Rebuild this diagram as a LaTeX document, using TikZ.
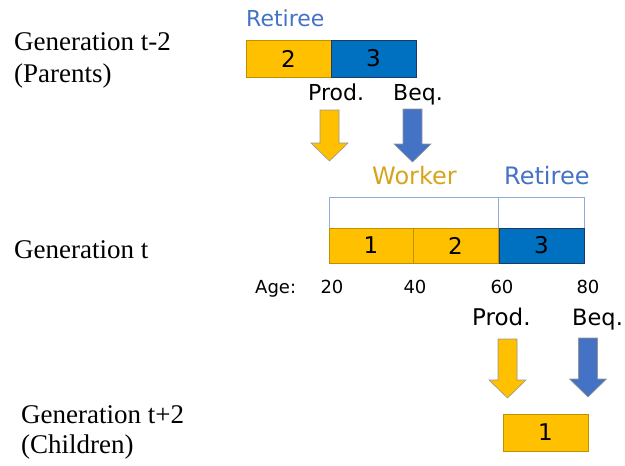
\documentclass[tikz,border=0pt]{standalone}
\usepackage{fontspec}
\setmainfont{Liberation Serif}
\newfontfamily\labelfont{DejaVu Sans}
\definecolor{ambar}{RGB}{255,192,0}
\definecolor{ambaredge}{RGB}{191,144,0}
\definecolor{deepblue}{RGB}{0,112,192}
\definecolor{deepedge}{RGB}{31,56,100}
\definecolor{softblue}{RGB}{68,114,196}
\definecolor{paleedge}{RGB}{143,170,220}
\definecolor{goldtext}{RGB}{214,164,28}
\definecolor{arrowedge}{RGB}{150,150,150}
\tikzset{
  x=1pt, y=-1pt,
  cell/.style={draw, line width=0.8pt, inner sep=0pt, minimum height=#1,
    font=\labelfont\fontsize{23}{26}\selectfont},
  workcell/.style={cell=#1, fill=ambar, draw=ambaredge},
  restcell/.style={cell=#1, fill=deepblue, draw=deepedge},
  framecell/.style={draw=paleedge, line width=0.8pt, inner sep=0pt, minimum height=31pt},
  gentext/.style={anchor=base west, inner sep=0pt, font=\fontsize{27}{30}\selectfont},
  tag/.style={anchor=base west, inner sep=0pt, font=\labelfont\fontsize{#1}{#1}\selectfont},
  tick/.style={anchor=base, inner sep=0pt, font=\labelfont\fontsize{18}{20}\selectfont},
  pics/downarrow/.style 2 args={code={
    \draw[fill=#1, draw=arrowedge, line width=0.6pt, line join=miter]
      (-9.5,0) -- (9.5,0) -- (9.5,#2-18) -- (18.5,#2-18) -- (0,#2)
      -- (-18.5,#2-18) -- (-9.5,#2-18) -- cycle;}}
}
\begin{document}
\begin{tikzpicture}
\useasboundingbox (0,0) rectangle (625,466);

% generation labels
\node[gentext] (gpar) at (14,50) {Generation t-2};
\node[gentext] (gpar2) at (14,82) {(Parents)};
\node[gentext] (gnow) at (14,258) {Generation t};
\node[gentext] (gchild) at (21,423) {Generation t+2};
\node[gentext] (gchild2) at (21,453) {(Children)};

% parents: remaining life periods
\node[tag=22, text=softblue] (pret) at (246,26) {Retiree};
\node[workcell=37pt, minimum width=85pt] (p2) at (288.5,58.5) {2};
\node[restcell=37pt, minimum width=85pt] (p3) at (373.5,58.5) {3};
\node[tag=22] (pprod) at (308,100) {Prod.};
\node[tag=22] (pbeq) at (393,100) {Beq.};
\pic at (329.5,110) {downarrow={ambar}{51}};
\pic at (412.5,109) {downarrow={softblue}{53}};

% generation t: life cycle
\node[tag=24, text=goldtext] (wlab) at (372,184) {Worker};
\node[tag=24, text=softblue] (rlab) at (504,184) {Retiree};
\node[framecell, minimum width=169pt] (wframe) at (413.5,212.5) {};
\node[framecell, minimum width=86pt] (rframe) at (541,212.5) {};
\node[workcell=35pt, minimum width=84pt] (c1) at (371,245.5) {1};
\node[workcell=35pt, minimum width=85pt] (c2) at (455.5,245.5) {2};
\node[restcell=35pt, minimum width=85pt] (c3) at (541.5,245.5) {3};

% age axis
\node[tag=18] (age) at (255,293) {Age:};
\node[tick] (a20) at (332,293) {20};
\node[tick] (a40) at (415,293) {40};
\node[tick] (a60) at (502,293) {60};
\node[tick] (a80) at (588,293) {80};

% transfers to children
\node[tag=23] (cprod) at (472,325) {Prod.};
\node[tag=22.5] (cbeq) at (572,325) {Beq.};
\pic at (507.5,339) {downarrow={ambar}{59}};
\pic at (588,338) {downarrow={softblue}{59}};
\node[workcell=37pt, minimum width=85pt] (k1) at (545.5,432.5) {1};
\end{tikzpicture}
\end{document}
